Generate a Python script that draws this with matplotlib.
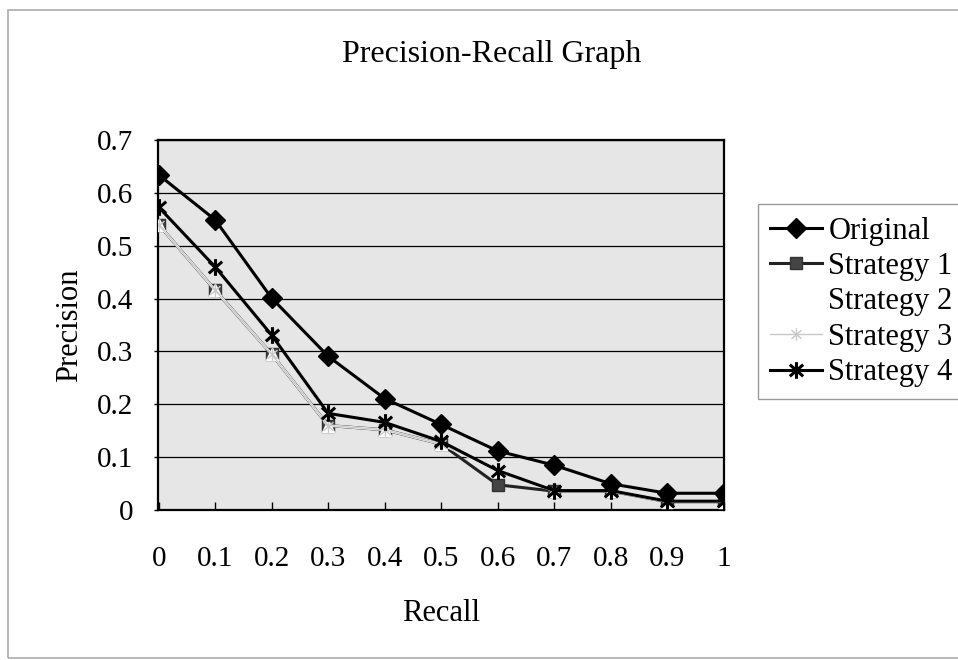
import numpy as np
import matplotlib.pyplot as plt
from matplotlib.path import Path
from matplotlib.patches import Rectangle

recall = [0, 0.1, 0.2, 0.3, 0.4, 0.5, 0.6, 0.7, 0.8, 0.9, 1]
x_labels = ["0", "0.1", "0.2", "0.3", "0.4", "0.5", "0.6", "0.7", "0.8", "0.9", "1"]
y_labels = ["0", "0.1", "0.2", "0.3", "0.4", "0.5", "0.6", "0.7"]

original = [0.634, 0.549, 0.401, 0.291, 0.211, 0.162, 0.112, 0.085, 0.050, 0.032, 0.032]
strategy1 = [0.540, 0.416, 0.295, 0.160, 0.152, 0.125, 0.048, 0.036, 0.036, 0.016, 0.016]
strategy2 = [0.540, 0.416, 0.295, 0.160, 0.152, 0.125, 0.075, 0.036, 0.036, 0.016, 0.016]
strategy3 = [0.540, 0.416, 0.295, 0.160, 0.152, 0.125, 0.075, 0.036, 0.036, 0.016, 0.016]
strategy4 = [0.573, 0.460, 0.331, 0.183, 0.166, 0.130, 0.075, 0.037, 0.037, 0.017, 0.017]

plt.rcParams['font.family'] = ['Liberation Serif', 'DejaVu Serif']

# asterisk marker like the old Excel one
asterisk = Path([(0, -1), (0, 1), (-0.8, -0.7), (0.8, 0.7), (-0.8, 0.7), (0.8, -0.7)],
                [Path.MOVETO, Path.LINETO, Path.MOVETO, Path.LINETO, Path.MOVETO, Path.LINETO])

fig = plt.figure(figsize=(9.58, 6.6), dpi=100)
ax = fig.add_axes([0.165, 0.227, 0.591, 0.561])
ax.set_facecolor('#e6e6e6')

ax.plot(recall, original, color='black', lw=2.2, marker='D', ms=10, label='Original', zorder=5)
ax.plot(recall, strategy1, color='#222222', lw=2.2, marker='s', ms=9,
        mfc='#444444', mec='#333333', label='Strategy 1', zorder=3)
ax.plot(recall, strategy2, color='white', lw=1.8, marker='^', ms=8,
        mfc='white', mec='white', label='Strategy 2', zorder=3.2)
ax.plot(recall, strategy3, color='#c8c8c8', lw=1.0, marker=asterisk, ms=9,
        mec='#c8c8c8', mew=1.0, label='Strategy 3', zorder=3.4)
ax.plot(recall, strategy4, color='black', lw=2.2, marker=asterisk, ms=12,
        mec='black', mew=2.2, label='Strategy 4', zorder=4)

ax.set_xlim(-0.001, 1.001)
ax.set_ylim(0, 0.7)
ax.set_xticks(recall)
ax.set_xticklabels(x_labels)
ax.set_yticks(np.arange(0, 0.71, 0.1))
ax.set_yticklabels(y_labels)
ax.tick_params(axis='x', direction='in', length=6, width=1, pad=26, labelsize=21)
ax.tick_params(axis='y', direction='out', length=3, width=1, pad=15, labelsize=21)
ax.grid(axis='y', color='black', lw=0.9)
ax.set_axisbelow(True)
for s in ax.spines.values():
    s.set_linewidth(1.6)
    s.set_color('black')

ax.set_xlabel('Recall', fontsize=22, labelpad=19)
ax.set_ylabel('Precision', fontsize=22, labelpad=9)
fig.text(0.513, 0.918, 'Precision-Recall Graph', fontsize=23, ha='center', va='center')

leg = ax.legend(loc='upper left', bbox_to_anchor=(1.06, 0.826), fontsize=22,
                frameon=True, fancybox=False, edgecolor='#999999', framealpha=1,
                handlelength=1.7, handletextpad=0.2, labelspacing=0.21,
                borderpad=0.4, borderaxespad=0)
leg.get_frame().set_linewidth(1.0)

# outer chart border
fig.patches.append(Rectangle((0.008, 0.003), 1.2, 0.982, transform=fig.transFigure,
                             fill=False, edgecolor='#aaaaaa', lw=1.2))

fig.savefig('out.png', dpi=100)
